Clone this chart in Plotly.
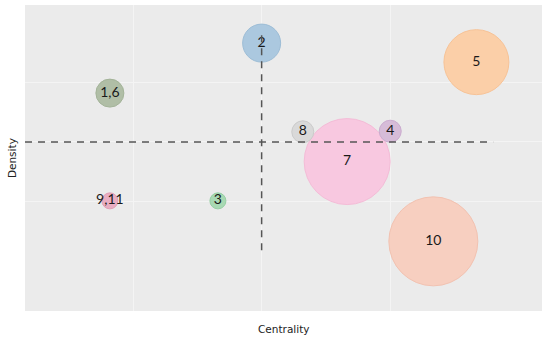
import plotly.graph_objects as go

labels = ["7", "2", "1,6", "5", "8", "4", "10", "9,11", "3"]
centrality = [0.665, 0.0, -1.18, 1.67, 0.32, 1.0, 1.335, -1.18, -0.34]
density = [-0.33, 1.66, 0.82, 1.34, 0.17, 0.18, -1.67, -0.99, -0.99]
sizes = [86, 38, 28, 65, 22, 22, 89, 16, 16]
fill_colors = ["#f8c8e0", "#abc8df", "#b0bea6", "#fbcfa8", "#d9d9d9", "#d6bcd8", "#f7cfc0", "#e9aec2", "#a8d9b3"]
edge_colors = ["#f4bcd7", "#9dbdd6", "#a3b398", "#f7c397", "#cbcbcb", "#cbaccf", "#f2c2b1", "#e29fb6", "#96cfa3"]

fig = go.Figure()
fig.add_trace(go.Scatter(
    x=centrality, y=density, mode="markers+text", text=labels,
    textposition="middle center",
    textfont=dict(family="Lato", size=14, color="#1a1a1a"),
    marker=dict(size=sizes, sizemode="diameter", color=fill_colors,
                line=dict(color=edge_colors, width=1), opacity=1),
    hoverinfo="skip", showlegend=False, cliponaxis=False,
))

dash_col = "#555555"
fig.add_shape(type="line", x0=-1.84, x1=1.80, y0=0, y1=0, xref="x", yref="y",
              line=dict(color=dash_col, width=1.5, dash="7px,6px"), layer="above")
fig.add_shape(type="line", x0=0, x1=0, y0=-1.82, y1=1.83, xref="x", yref="y",
              line=dict(color=dash_col, width=1.5, dash="7px,6px"), layer="above")

fig.update_xaxes(range=[-1.84, 2.18], tickvals=[-1, 0, 1], showticklabels=False,
                 showgrid=True, gridcolor="#f4f4f4", gridwidth=1, zeroline=False,
                 showline=False, ticks="")
fig.update_yaxes(range=[-2.84, 2.30], tickvals=[-1, 0, 1], showticklabels=False,
                 showgrid=True, gridcolor="#f4f4f4", gridwidth=1, zeroline=False,
                 showline=False, ticks="")

fig.add_annotation(text="Centrality", xref="paper", yref="paper", x=0.5, y=-0.059,
                   showarrow=False, xanchor="center", yanchor="middle",
                   font=dict(family="DejaVu Sans", size=10.5, color="#222222"))
fig.add_annotation(text="Density", xref="paper", yref="paper", x=-0.025, y=0.50,
                   showarrow=False, xanchor="center", yanchor="middle", textangle=-90,
                   font=dict(family="DejaVu Sans", size=10.5, color="#222222"))

fig.update_layout(
    width=550, height=340,
    margin=dict(l=25, r=8, t=5, b=29),
    plot_bgcolor="#ebebeb", paper_bgcolor="white",
    showlegend=False,
)

fig.write_html("out.html", config={"displayModeBar": False},
               post_script="document.body.style.margin='0';document.body.style.overflow='hidden';")
